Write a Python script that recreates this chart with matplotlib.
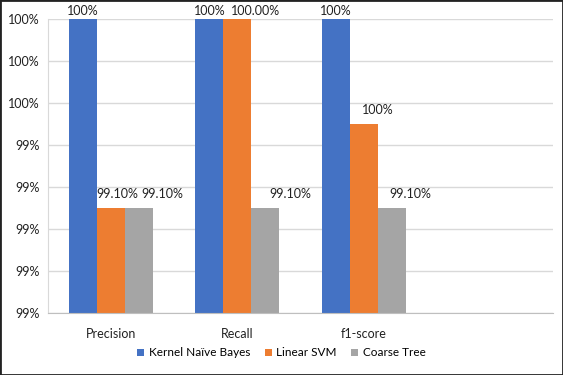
import numpy as np
import matplotlib
matplotlib.use('Agg')
import matplotlib.pyplot as plt
from matplotlib.ticker import FuncFormatter, MultipleLocator
from matplotlib.patches import Rectangle

# ---- data ----
categories = ['Precision', 'Recall', 'f1-score', '']
series_names = ['Kernel Naïve Bayes', 'Linear SVM', 'Coarse Tree']
kernel_nb = [100.0, 100.0, 100.0]
linear_svm = [99.1, 100.0, 99.5]
coarse_tree = [99.1, 99.1, 99.1]
kernel_nb_labels = ['100%', '100%', '100%']
linear_svm_labels = ['99.10%', '100.00%', '100%']
coarse_tree_labels = ['99.10%', '99.10%', '99.10%']

colors = ['#4472C4', '#ED7D31', '#A5A5A5']
# data labels were nudged right in the original, in pixels
label_shift = [[0, 0, 0], [6, 18, 14], [23, 25, 19]]

plt.rcParams['font.family'] = ['Lato', 'DejaVu Sans']

fig = plt.figure(figsize=(5.63, 3.75), dpi=100)
ax = fig.add_axes([48/563, 1-313/375, 505/563, 294/375])

x = np.arange(3)
w = 0.2222
ymax = 100.0
all_vals = [kernel_nb, linear_svm, coarse_tree]
all_labels = [kernel_nb_labels, linear_svm_labels, coarse_tree_labels]
for i, (vals, labs) in enumerate(zip(all_vals, all_labels)):
    pos = x + (i - 1) * w
    ax.bar(pos, vals, width=w, color=colors[i], label=series_names[i], zorder=2)
    for j, (p, v, t) in enumerate(zip(pos, vals, labs)):
        dy = 2 if v >= ymax else 8
        ax.annotate(t, (p, v), xytext=(label_shift[i][j], dy), textcoords='offset pixels',
                    ha='center', va='bottom', fontsize=9, color='#222222',
                    annotation_clip=False)

ax.set_ylim(98.6, 100.0)
ax.yaxis.set_major_locator(MultipleLocator(0.2))
ax.yaxis.set_major_formatter(FuncFormatter(lambda v, p: f'{round(v):.0f}%'))
ax.set_xlim(-0.5, 3.5)
ax.set_xticks(np.arange(4))
ax.set_xticklabels(categories)
ax.tick_params(axis='both', length=0, labelsize=9, colors='#222222')
ax.tick_params(axis='y', pad=6)
ax.tick_params(axis='x', pad=11)
ax.grid(axis='y', color='#D9D9D9', linewidth=1, zorder=0)
for s in ['top', 'right']:
    ax.spines[s].set_visible(False)
ax.spines['left'].set_color('#D9D9D9')
ax.spines['bottom'].set_color('#BFBFBF')

ax.legend(loc='center', bbox_to_anchor=(0.5, 1 - 353/375), bbox_transform=fig.transFigure,
          ncol=3, frameon=False, fontsize=8.5, handlelength=0.6, handleheight=0.6,
          handletextpad=0.4, columnspacing=1.2)

fig.patches.append(Rectangle((0, 0), 1, 1, transform=fig.transFigure, fill=False,
                             edgecolor='#222222', linewidth=2))

fig.savefig('out.png', dpi=100)
